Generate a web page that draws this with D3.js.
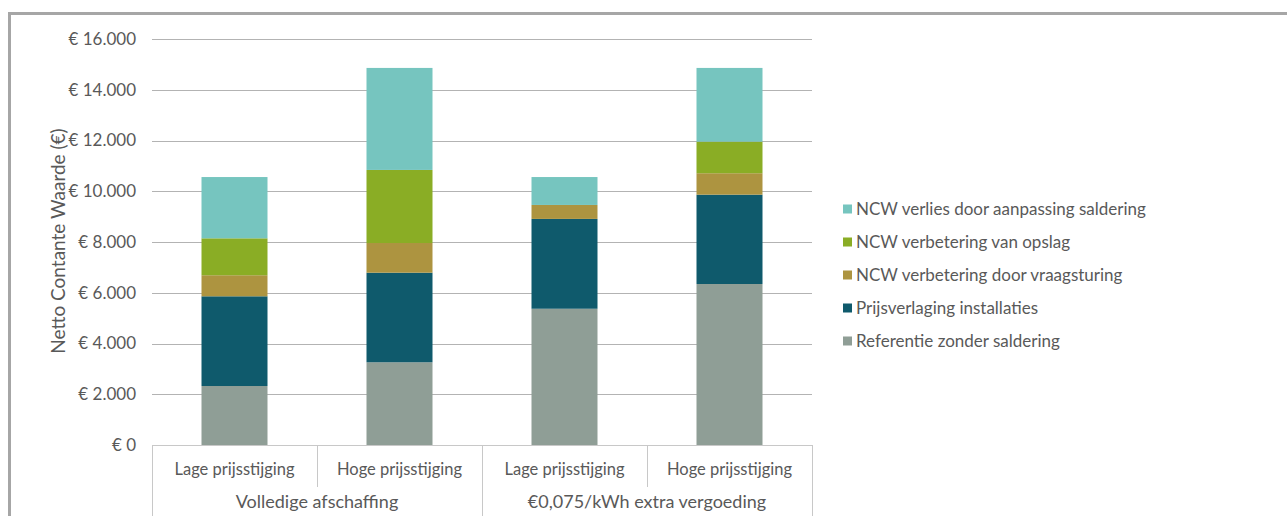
<!DOCTYPE html>
<html>
<head>
<meta charset="utf-8">
<script src="https://cdn.jsdelivr.net/npm/d3@7"></script>
<style>
  body { margin: 0; background: #fff; }
  svg { display: block; font-family: Lato, "Open Sans", sans-serif; }
</style>
</head>
<body>
<svg id="chart" width="1287" height="516"></svg>
<script>
// categories (bottom row) and groups (second row)
let categories = ['Lage prijsstijging', 'Hoge prijsstijging', 'Lage prijsstijging', 'Hoge prijsstijging'];
let groups = ['Volledige afschaffing', '€0,075/kWh extra vergoeding'];

// series, from bottom of the stack to top
let seriesNames = [
  'Referentie zonder saldering',
  'Prijsverlaging installaties',
  'NCW verbetering door vraagsturing',
  'NCW verbetering van opslag',
  'NCW verlies door aanpassing saldering'
];
let referentie  = [2325, 3260, 5370, 6345];
let prijsverlaging = [3535, 3530, 3540, 3520];
let vraagsturing = [830, 1170, 550, 845];
let opslag = [1455, 2880, 0, 1245];
let verlies = [2415, 4020, 1100, 2905];
let seriesColors = ['#8f9e96', '#0f5a6c', '#ad9440', '#8aad25', '#76c5bf'];

let yTicks = [0, 2000, 4000, 6000, 8000, 10000, 12000, 14000, 16000];

let svg = d3.select('#chart');

// outer frame
svg.append('rect')
  .attr('x', 9.5).attr('y', 13.5)
  .attr('width', 1300).attr('height', 520)
  .attr('fill', 'none')
  .attr('stroke', '#a6a6a6')
  .attr('stroke-width', 3);

let plotLeft = 152, plotRight = 812, plotTop = 39, plotBottom = 445;

let x = d3.scaleBand()
  .domain(d3.range(categories.length))
  .range([plotLeft, plotRight])
  .paddingInner(0.6)
  .paddingOuter(0.3);

let y = d3.scaleLinear()
  .domain([0, 16000])
  .range([plotBottom, plotTop]);

// gridlines
svg.append('g').selectAll('line')
  .data(yTicks.slice(1))
  .enter()
  .append('line')
  .attr('x1', plotLeft).attr('x2', plotRight)
  .attr('y1', d => Math.round(y(d)) + 0.5)
  .attr('y2', d => Math.round(y(d)) + 0.5)
  .attr('stroke', '#b3b3b3');

// y labels
let euro = d3.formatLocale({decimal: ',', thousands: '.', grouping: [3], currency: ['€ ', '']}).format('$,.0f');
svg.append('g').selectAll('text')
  .data(yTicks)
  .enter()
  .append('text')
  .attr('x', 136)
  .attr('y', d => y(d))
  .attr('dy', '0.35em')
  .attr('text-anchor', 'end')
  .attr('font-size', 17)
  .attr('fill', '#595959')
  .text(d => euro(d));

// y title
svg.append('text')
  .attr('transform', 'translate(65,' + 241 + ') rotate(-90)')
  .attr('text-anchor', 'middle')
  .attr('font-size', 19)
  .attr('fill', '#595959')
  .text('Netto Contante Waarde (€)');

// stacked bars
let rows = categories.map((c, i) => ({
  i: i,
  s0: referentie[i], s1: prijsverlaging[i], s2: vraagsturing[i], s3: opslag[i], s4: verlies[i]
}));
let stack = d3.stack().keys(['s0', 's1', 's2', 's3', 's4']);
let layers = stack(rows);

svg.append('g').selectAll('g')
  .data(layers)
  .enter()
  .append('g')
  .attr('fill', (d, k) => seriesColors[k])
  .selectAll('rect')
  .data(d => d)
  .enter()
  .append('rect')
  .attr('x', d => x(d.data.i))
  .attr('width', x.bandwidth())
  .attr('y', d => y(d[1]))
  .attr('height', d => y(d[0]) - y(d[1]));

// x axis line and separators
let step = x.step();
let xa = svg.append('g').attr('stroke', '#c8c8c8');
xa.append('line')
  .attr('x1', plotLeft).attr('x2', plotRight)
  .attr('y1', plotBottom + 0.5).attr('y2', plotBottom + 0.5);
d3.range(categories.length + 1).forEach(k => {
  let xx = Math.round(plotLeft + k * step) + 0.5;
  let outer = k % 2 === 0;
  xa.append('line')
    .attr('x1', xx).attr('x2', xx)
    .attr('y1', plotBottom).attr('y2', outer ? 520 : 487);
});

// category labels
svg.append('g').selectAll('text')
  .data(categories)
  .enter()
  .append('text')
  .attr('x', (d, i) => x(i) + x.bandwidth() / 2)
  .attr('y', 469)
  .attr('dy', '0.35em')
  .attr('text-anchor', 'middle')
  .attr('font-size', 16.5)
  .attr('fill', '#595959')
  .text(d => d);

// group labels
svg.append('g').selectAll('text')
  .data(groups)
  .enter()
  .append('text')
  .attr('x', (d, g) => plotLeft + step * (2 * g + 1))
  .attr('y', 502)
  .attr('dy', '0.35em')
  .attr('text-anchor', 'middle')
  .attr('font-size', 18)
  .attr('fill', '#595959')
  .text(d => d);

// legend (top = last series)
let legendOrder = d3.range(seriesNames.length).reverse();
let legend = svg.append('g').selectAll('g')
  .data(legendOrder)
  .enter()
  .append('g')
  .attr('transform', (k, j) => 'translate(843,' + (209 + j * 33) + ')');
legend.append('rect')
  .attr('x', 0).attr('y', -4.5)
  .attr('width', 9).attr('height', 9)
  .attr('fill', k => seriesColors[k]);
legend.append('text')
  .attr('x', 13)
  .attr('dy', '0.35em')
  .attr('font-size', 17)
  .attr('fill', '#595959')
  .text(k => seriesNames[k]);
</script>
</body>
</html>
